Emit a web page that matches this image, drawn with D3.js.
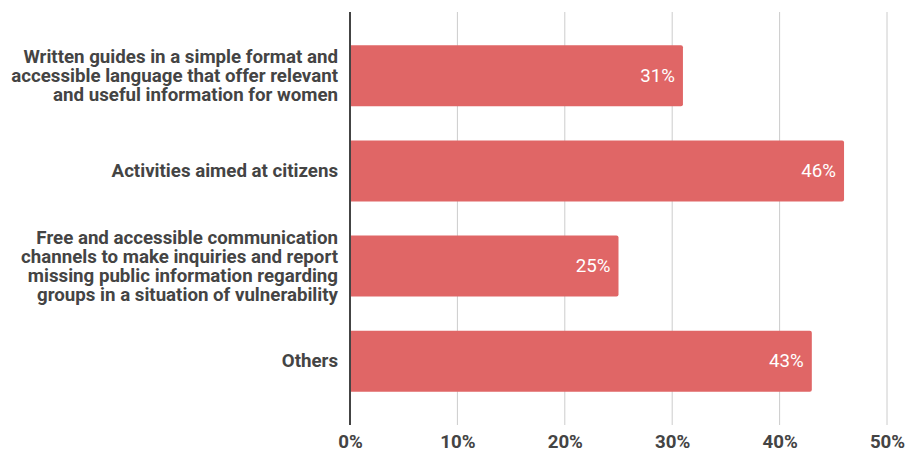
<!DOCTYPE html>
<html>
<head>
<meta charset="utf-8">
<script src="https://cdn.jsdelivr.net/npm/d3@7"></script>
<style>
  html, body { margin: 0; padding: 0; background: #fff; }
  svg { display: block; font-family: Roboto, "Noto Sans", sans-serif; }
</style>
</head>
<body>
<svg id="chart" width="906" height="450"></svg>
<script>
// Survey answers: share of respondents per proposed measure
const categories = [
  ["Written guides in a simple format and", "accessible language that offer relevant", "and useful information for women"],
  ["Activities aimed at citizens"],
  ["Free and accessible communication", "channels to make inquiries and report", "missing public information regarding", "groups in a situation of vulnerability"],
  ["Others"]
];
const values = [31, 46, 25, 43];
const tickValues = [0, 10, 20, 30, 40, 50];

(function draw() {
  const svg = d3.select("#chart");
  const plotLeft = 350, plotRight = 887, plotTop = 12, plotBottom = 425;
  const fontSize = "18.7px";

  const x = d3.scaleLinear().domain([0, 50]).range([plotLeft, plotRight]);
  const y = d3.scaleBand()
    .domain(d3.range(categories.length))
    .range([plotTop, plotBottom])
    .paddingInner(0.358)
    .paddingOuter(0.35);

  // vertical gridlines
  svg.append("g")
    .selectAll("line")
    .data(tickValues.filter(d => d > 0))
    .join("line")
    .attr("x1", d => x(d)).attr("x2", d => x(d))
    .attr("y1", plotTop).attr("y2", plotBottom)
    .attr("stroke", "#cccccc")
    .attr("stroke-width", 1);

  // bars with slightly rounded ends
  const r = 2;
  svg.append("g")
    .selectAll("path")
    .data(values)
    .join("path")
    .attr("fill", "#e06666")
    .attr("d", (d, i) => {
      const x0 = x(0), x1 = x(d), y0 = y(i), h = y.bandwidth();
      return `M${x0},${y0}H${x1 - r}Q${x1},${y0} ${x1},${y0 + r}V${y0 + h - r}Q${x1},${y0 + h} ${x1 - r},${y0 + h}H${x0}Z`;
    });

  // value labels inside bar ends
  svg.append("g")
    .selectAll("text")
    .data(values)
    .join("text")
    .attr("x", d => x(d) - 8)
    .attr("y", (d, i) => y(i) + y.bandwidth() / 2)
    .attr("dy", "0.32em")
    .attr("text-anchor", "end")
    .attr("fill", "#ffffff")
    .style("font-size", fontSize)
    .text(d => d + "%");

  // baseline axis
  svg.append("line")
    .attr("x1", x(0)).attr("x2", x(0))
    .attr("y1", plotTop).attr("y2", plotBottom)
    .attr("stroke", "#444444")
    .attr("stroke-width", 2);

  // x tick labels
  const xAxis = d3.axisBottom(x).tickValues(tickValues).tickSize(0).tickPadding(0).tickFormat(d => d + "%");
  const gx = svg.append("g").attr("transform", `translate(0,${plotBottom})`).call(xAxis);
  gx.select(".domain").remove();
  gx.selectAll("text")
    .attr("y", 23)
    .attr("dy", "0")
    .attr("fill", "#444444")
    .style("font-family", "Roboto, 'Noto Sans', sans-serif")
    .style("font-size", fontSize)
    .style("font-weight", "bold");

  // multi-line category labels
  const lineH = 19;
  const gy = svg.append("g");
  categories.forEach((lines, i) => {
    const cy = y(i) + y.bandwidth() / 2;
    const t = gy.append("text")
      .attr("text-anchor", "end")
      .attr("fill", "#444444")
      .style("font-size", fontSize)
      .style("font-weight", "bold");
    lines.forEach((ln, k) => {
      t.append("tspan")
        .attr("x", 338)
        .attr("y", cy + (k - (lines.length - 1) / 2) * lineH)
        .attr("dy", "0.32em")
        .text(ln);
    });
  });
})();
</script>
</body>
</html>
